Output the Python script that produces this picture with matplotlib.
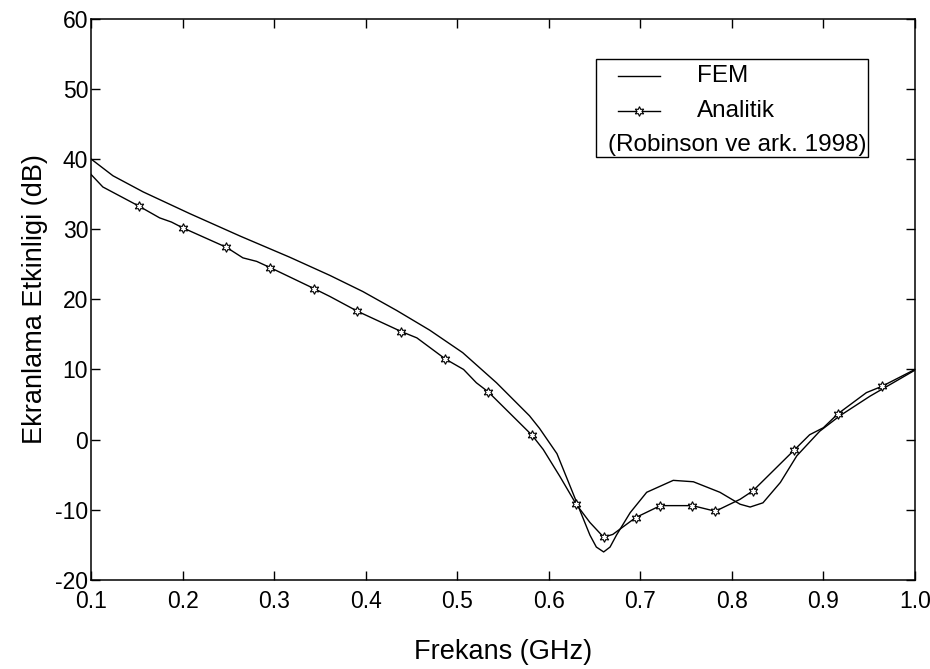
import matplotlib
matplotlib.use("Agg")
import matplotlib.pyplot as plt
from matplotlib.patches import Rectangle
from matplotlib.lines import Line2D
import numpy as np

plt.rcParams['font.family'] = ['Liberation Sans', 'DejaVu Sans']
plt.rcParams['axes.unicode_minus'] = False

# FEM sonuclari
fem_x = [0.100, 0.124, 0.157, 0.208, 0.263, 0.317, 0.361, 0.397, 0.434, 0.470,
         0.506, 0.543, 0.579, 0.590, 0.609, 0.627, 0.645, 0.652, 0.660, 0.667,
         0.674, 0.689, 0.707, 0.736, 0.758, 0.787, 0.809, 0.820, 0.834, 0.853,
         0.871, 0.896, 0.918, 0.951, 1.000]
fem_y = [40.0, 37.6, 35.3, 32.2, 29.0, 26.0, 23.4, 21.1, 18.4, 15.6,
         12.4, 8.1, 3.4, 1.6, -2.0, -7.8, -13.6, -15.3, -16.0, -15.3,
         -13.6, -10.4, -7.5, -5.8, -6.0, -7.5, -9.2, -9.6, -9.0, -6.1,
         -2.3, 1.2, 3.4, 6.2, 9.9]

# Analitik (Robinson ve ark. 1998)
ana_x = [0.100, 0.113, 0.152, 0.175, 0.188, 0.200, 0.248, 0.266, 0.281, 0.296,
         0.344, 0.361, 0.391, 0.439, 0.456, 0.487, 0.507, 0.521, 0.534, 0.582,
         0.594, 0.612, 0.630, 0.645, 0.660, 0.670, 0.695, 0.722, 0.757, 0.782,
         0.809, 0.823, 0.868, 0.885, 0.900, 0.916, 0.947, 0.964, 1.000]
ana_y = [37.8, 36.0, 33.3, 31.6, 31.0, 30.2, 27.4, 25.9, 25.4, 24.5,
         21.5, 20.4, 18.3, 15.4, 14.5, 11.5, 10.0, 8.1, 6.8, 0.6,
         -1.4, -5.2, -9.2, -11.8, -13.9, -13.5, -11.1, -9.4, -9.4, -10.2,
         -8.5, -7.3, -1.5, 0.7, 1.7, 3.7, 6.7, 7.6, 10.0]
ana_markers = [2, 5, 6, 9, 10, 12, 13, 15, 18, 19, 22, 24, 26, 27, 28, 29,
               31, 32, 35, 37]

x_ticks = [0.1, 0.2, 0.3, 0.4, 0.5, 0.6, 0.7, 0.8, 0.9, 1.0]
x_labels = ['0.1', '0.2', '0.3', '0.4', '0.5', '0.6', '0.7', '0.8', '0.9', '1.0']
y_ticks = [-20, -10, 0, 10, 20, 30, 40, 50, 60]

star = (6, 1, 0)

fig = plt.figure(figsize=(9.3, 6.69), dpi=100)
ax = fig.add_axes([0.0978, 0.1330, 0.886, 0.8393])

ax.plot(fem_x, fem_y, color='black', lw=1.0)
ax.plot(ana_x, ana_y, color='black', lw=1.0, marker=star, markevery=ana_markers,
        markersize=7, markerfacecolor='white', markeredgecolor='black',
        markeredgewidth=0.8)

ax.set_xlim(0.1, 1.0)
ax.set_ylim(-20, 60)
ax.set_xticks(x_ticks)
ax.set_xticklabels(x_labels)
ax.set_yticks(y_ticks)
ax.tick_params(direction='in', top=True, right=True, length=6.5, width=1,
               labelsize=16.5)
ax.tick_params(axis='x', pad=7)
ax.tick_params(axis='y', pad=2)
for s in ax.spines.values():
    s.set_linewidth(1.1)

ax.set_xlabel('Frekans (GHz)', fontsize=19.5, labelpad=19)
ax.set_ylabel('Ekranlama Etkinligi (dB)', fontsize=19.5, labelpad=5)

# legend drawn by hand (MATLAB style box)
ax.add_patch(Rectangle((0.613, 0.753), 0.330, 0.175, transform=ax.transAxes,
                       facecolor='white', edgecolor='black', lw=1.0, zorder=5))
ax.add_line(Line2D([0.640, 0.690], [0.897, 0.897], transform=ax.transAxes,
                   color='black', lw=1.0, zorder=6))
ax.add_line(Line2D([0.640, 0.690], [0.836, 0.836], transform=ax.transAxes,
                   color='black', lw=1.0, zorder=6))
ax.add_line(Line2D([0.665], [0.836], transform=ax.transAxes, marker=star,
                   markersize=7, markerfacecolor='white', markeredgecolor='black',
                   markeredgewidth=0.8, zorder=7))
ax.text(0.735, 0.897, 'FEM', transform=ax.transAxes, fontsize=17.5,
        va='center', ha='left', zorder=7)
ax.text(0.735, 0.836, 'Analitik', transform=ax.transAxes, fontsize=17.5,
        va='center', ha='left', zorder=7)
ax.text(0.627, 0.775, '(Robinson ve ark. 1998)', transform=ax.transAxes,
        fontsize=17.5, va='center', ha='left', zorder=7)

fig.savefig('out.png', dpi=100)
